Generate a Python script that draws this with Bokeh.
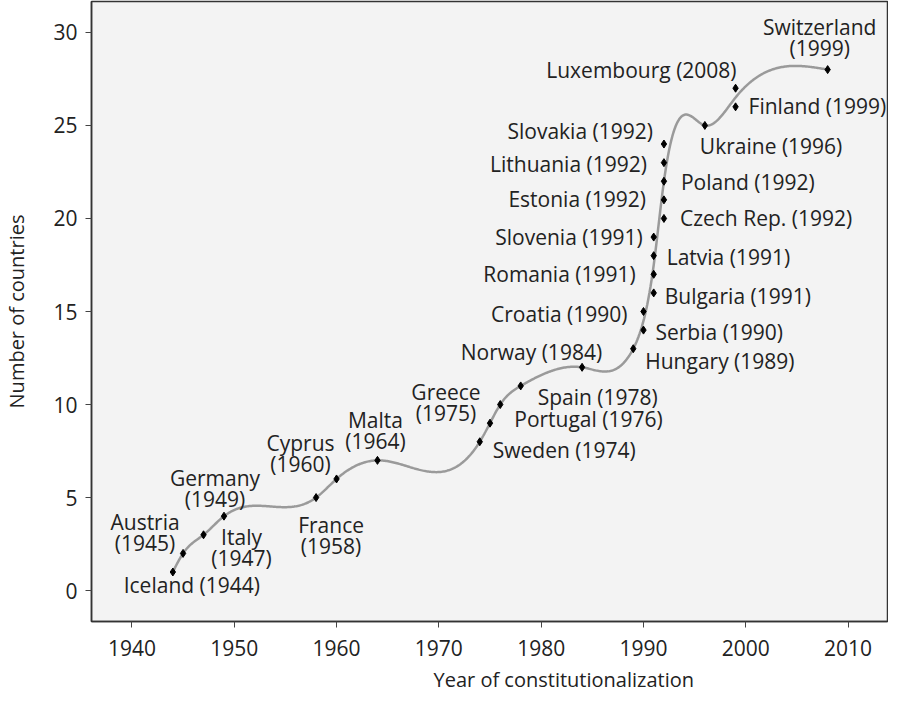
import numpy as np
from bokeh.plotting import figure
from bokeh.models import Range1d, FixedTicker, Title, ColumnDataSource
from bokeh.core.properties import value
from bokeh.embed import file_html
from bokeh.resources import INLINE

# ---------------- data ----------------
years = [1944, 1945, 1947, 1949, 1958, 1960, 1964, 1974, 1975, 1976, 1978, 1984,
         1989, 1990, 1990, 1991, 1991, 1991, 1991, 1992, 1992, 1992, 1992, 1992,
         1996, 1999, 1999, 2008]
counts = [1, 2, 3, 4, 5, 6, 7, 8, 9, 10, 11, 12,
          13, 14, 15, 16, 17, 18, 19, 20, 21, 22, 23, 24,
          25, 26, 27, 28]
labels = ["Iceland (1944)", "Austria\n(1945)", "Italy\n(1947)", "Germany\n(1949)",
          "France\n(1958)", "Cyprus\n(1960)", "Malta\n(1964)", "Sweden (1974)",
          "Greece\n(1975)", "Portugal (1976)", "Spain (1978)", "Norway (1984)",
          "Hungary (1989)", "Serbia (1990)", "Croatia (1990)", "Bulgaria (1991)",
          "Romania (1991)", "Latvia (1991)", "Slovenia (1991)", "Czech Rep. (1992)",
          "Estonia (1992)", "Poland (1992)", "Lithuania (1992)", "Slovakia (1992)",
          "Ukraine (1996)", "Finland (1999)", "Luxembourg (2008)", "Switzerland\n(1999)"]
x_ticks = [1940, 1950, 1960, 1970, 1980, 1990, 2000, 2010]
y_ticks = [0, 5, 10, 15, 20, 25, 30]

# ---------------- label placement (pixel offsets, alignment) ----------------
label_layout = [
    (19, 13, "center"), (-38, -21, "center"), (38, 13, "center"), (-9, -28, "center"),
    (15, 38, "center"), (-36, -25, "center"), (-2, -30, "center"), (13, 8, "left"),
    (-44, -21, "center"), (14, 14, "left"), (17, 11, "left"), (20, -15, "right"),
    (12, 12, "left"), (12, 2, "left"), (-16, 2, "right"), (11, 3, "left"),
    (-18, 0, "right"), (13, 1, "left"), (-11, 0, "right"), (16, 0, "left"),
    (-18, -1, "right"), (17, 1, "left"), (-17, 1, "right"), (-11, -13, "right"),
    (-5, 21, "left"), (13, -1, "left"), (1, -18, "right"), (-8, -32, "center"),
]
LINE_H = 21

# ---------------- smooth curve: natural cubic spline through the points ----------------
ux = np.array(sorted(set(years)), dtype=float)
uy = np.array([np.mean([c for yv, c in zip(years, counts) if yv == u]) for u in ux])


def natural_spline(xs, ys, xq):
    n = len(xs)
    h = np.diff(xs)
    A = np.zeros((n, n))
    r = np.zeros(n)
    A[0, 0] = 1.0
    A[-1, -1] = 1.0
    for i in range(1, n - 1):
        A[i, i - 1] = h[i - 1]
        A[i, i] = 2 * (h[i - 1] + h[i])
        A[i, i + 1] = h[i]
        r[i] = 3 * ((ys[i + 1] - ys[i]) / h[i] - (ys[i] - ys[i - 1]) / h[i - 1])
    c = np.linalg.solve(A, r)
    b = (ys[1:] - ys[:-1]) / h - h * (2 * c[:-1] + c[1:]) / 3
    d = (c[1:] - c[:-1]) / (3 * h)
    idx = np.clip(np.searchsorted(xs, xq, side="right") - 1, 0, n - 2)
    t = xq - xs[idx]
    return ys[idx] + b[idx] * t + c[idx] * t ** 2 + d[idx] * t ** 3


xq = np.linspace(ux[0], ux[-1], 600)
yq = natural_spline(ux, uy, xq)

# ---------------- figure ----------------
FONT = "Open Sans"
TXT = "#222222"
FS = "21px"

p = figure(width=888, height=697, output_backend="svg", toolbar_location=None,
           x_range=Range1d(1936.05, 2013.85), y_range=Range1d(-1.66, 31.66),
           min_border_left=87, min_border_right=1, min_border_top=1, min_border_bottom=0)
p.background_fill_color = "#f3f3f3"
p.border_fill_color = "white"
p.outline_line_color = "#333333"
p.outline_line_width = 1.5
p.grid.visible = False

for ax in (p.xaxis[0], p.yaxis[0]):
    ax.axis_line_color = "#333333"
    ax.axis_line_width = 1.5
    ax.major_tick_line_color = "#444444"
    ax.major_tick_out = 6
    ax.major_tick_in = 0
    ax.minor_tick_line_color = None
    ax.major_label_text_font = FONT
    ax.major_label_text_font_size = FS
    ax.major_label_text_color = TXT

p.xaxis.ticker = FixedTicker(ticks=x_ticks)
p.yaxis.ticker = FixedTicker(ticks=y_ticks)
p.xaxis.major_label_standoff = 12
p.yaxis.major_label_standoff = 8

p.yaxis.axis_label = "Number of countries"
p.yaxis.axis_label_text_font = FONT
p.yaxis.axis_label_text_font_size = "20px"
p.yaxis.axis_label_text_font_style = "normal"
p.yaxis.axis_label_text_color = TXT
p.yaxis.axis_label_standoff = 20

xt = Title(text="Year of constitutionalization", align="left", offset=342,
           text_font=FONT, text_font_size="20px", text_font_style="normal",
           text_color=TXT, standoff=10)
p.add_layout(xt, "below")

p.line(xq, yq, line_color="#9a9a9a", line_width=2.5)
p.scatter(years, counts, marker="diamond", size=8, fill_color="black", line_color="black")

# labels: each line of a label is drawn as its own text item
rows = {"left": [], "center": [], "right": []}
for i, lab in enumerate(labels):
    dx, dy, align = label_layout[i]
    parts = lab.split("\n")
    n = len(parts)
    for k, part in enumerate(parts):
        rows[align].append((years[i], counts[i], part, dx, dy + (k - (n - 1) / 2) * LINE_H))

for align, items in rows.items():
    src = ColumnDataSource(dict(
        x=[it[0] for it in items], y=[it[1] for it in items], t=[it[2] for it in items],
        dx=[it[3] for it in items], dy=[it[4] for it in items]))
    p.text(x="x", y="y", text="t", x_offset="dx", y_offset="dy", source=src,
           text_align=align, text_baseline="middle", text_font=value(FONT),
           text_font_size=FS, text_color=TXT)

open("out.html", "w").write(file_html(p, INLINE))
